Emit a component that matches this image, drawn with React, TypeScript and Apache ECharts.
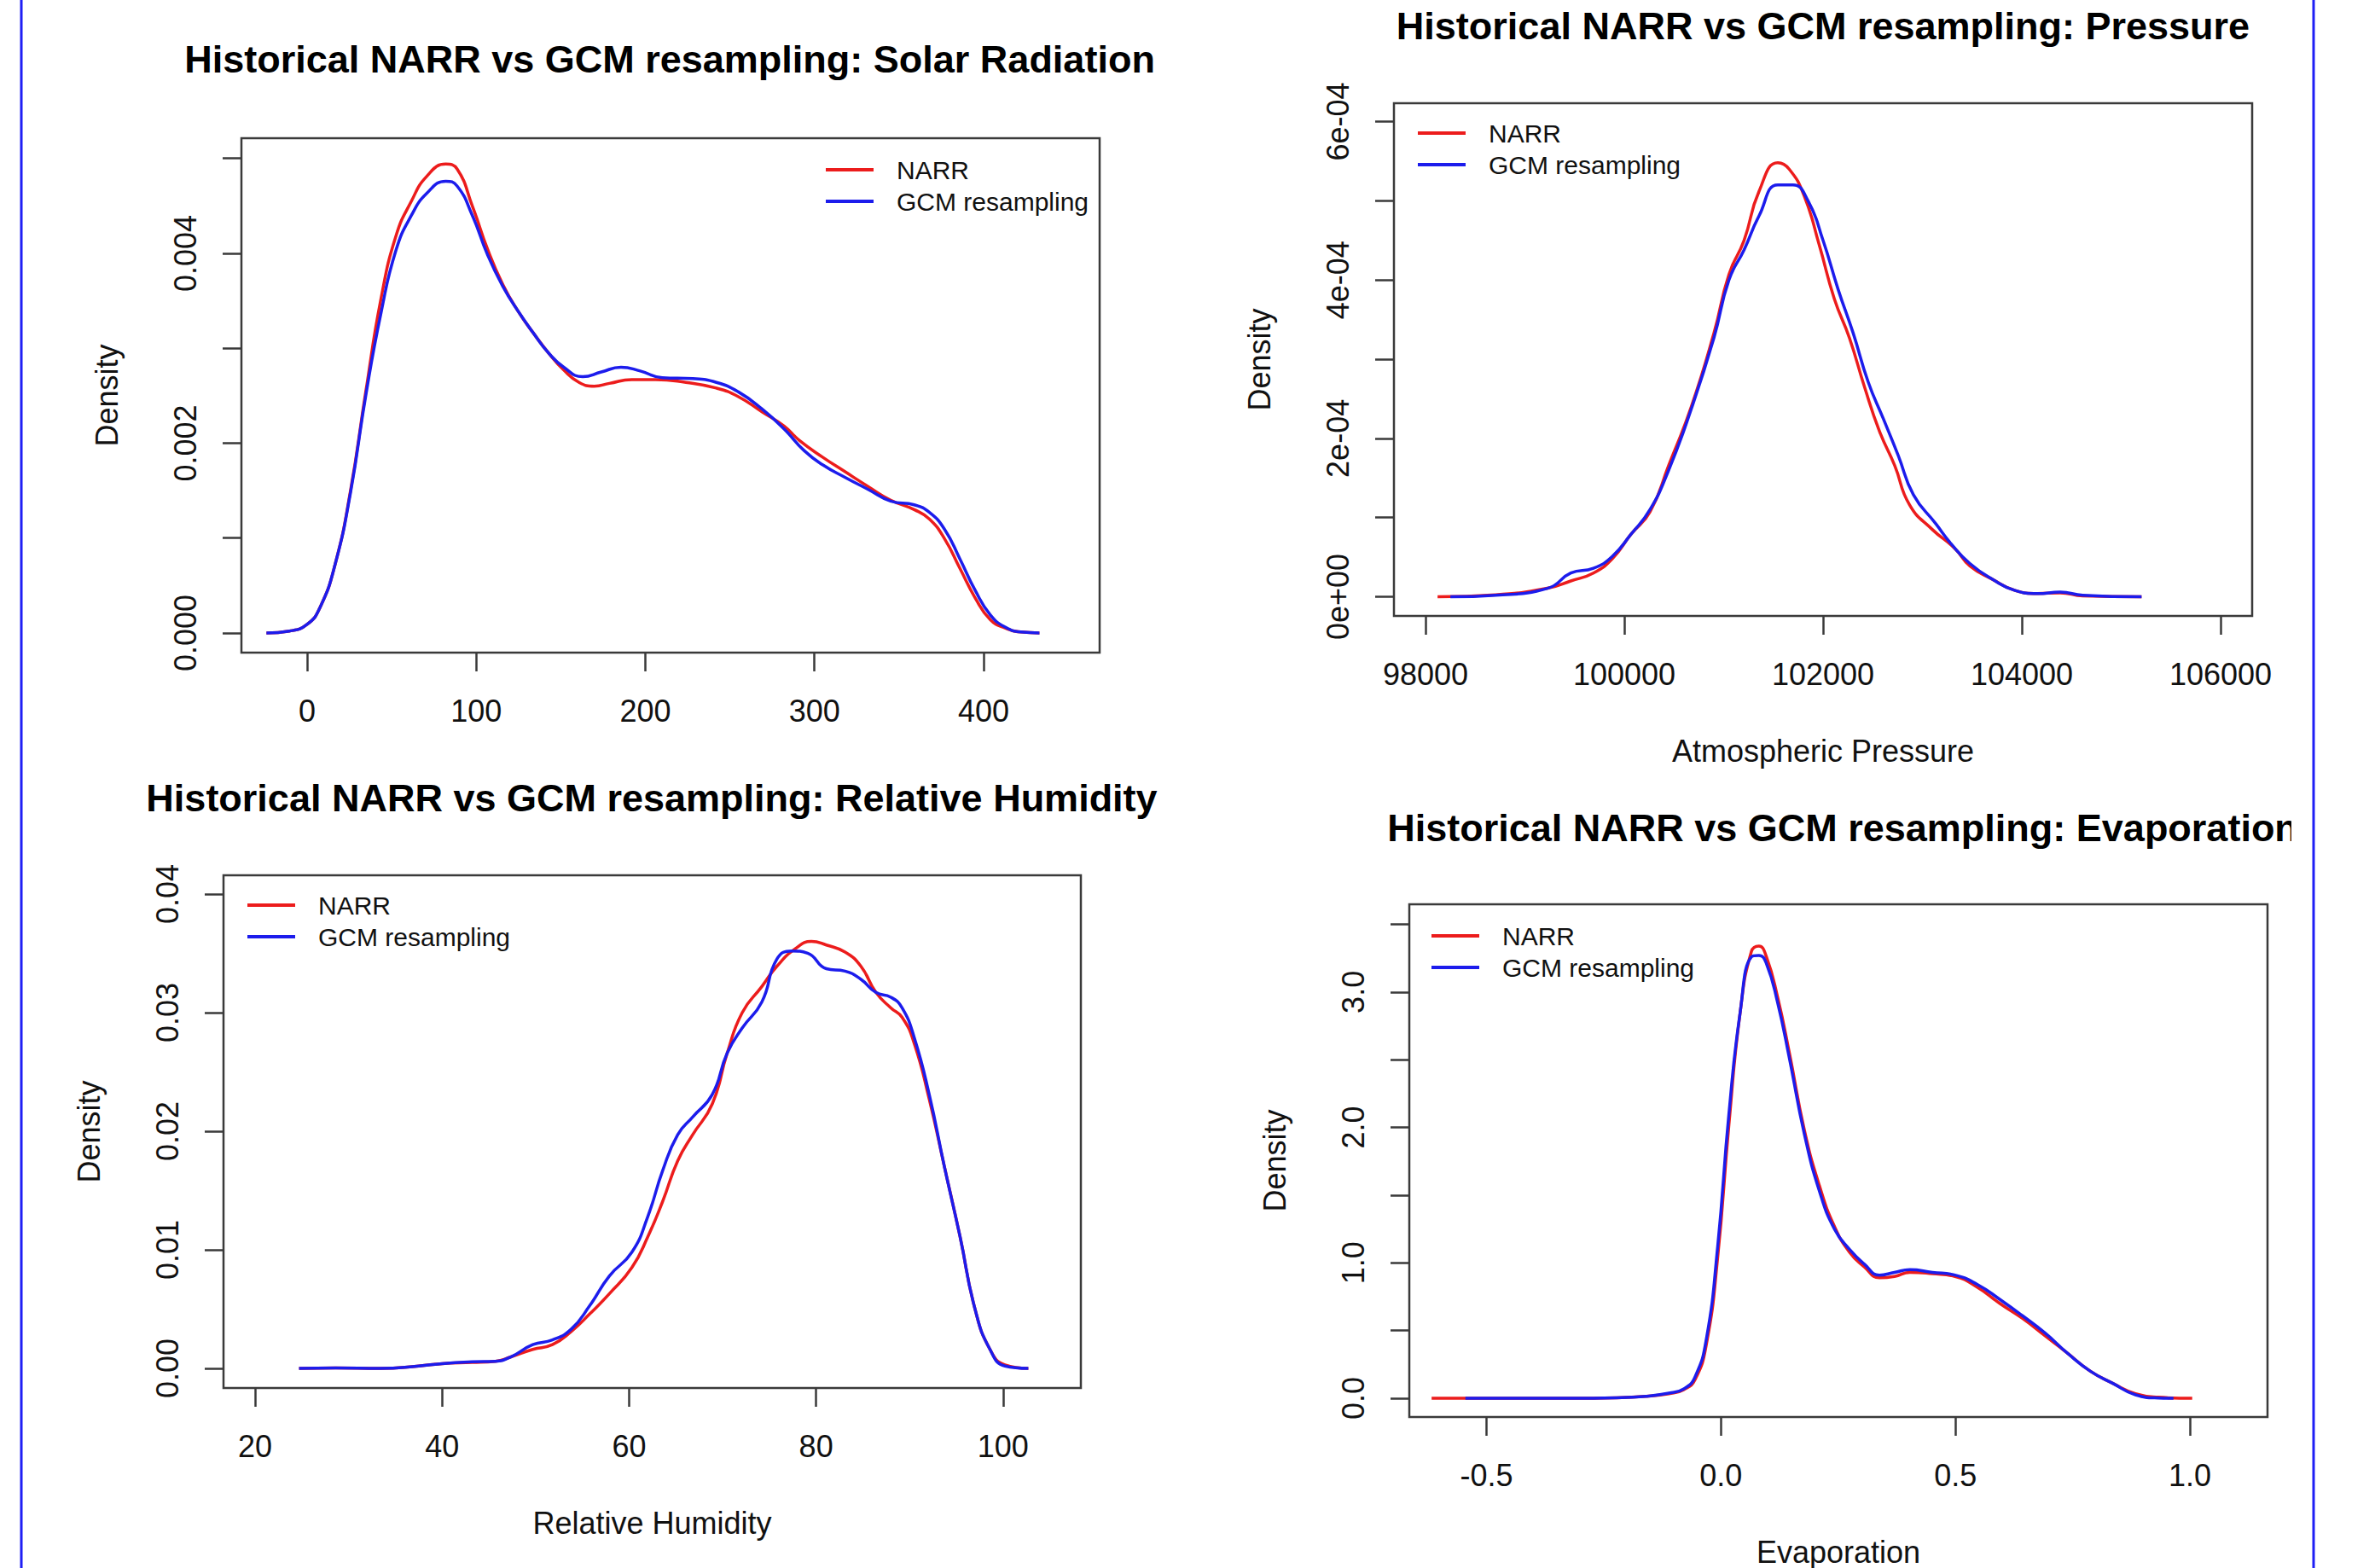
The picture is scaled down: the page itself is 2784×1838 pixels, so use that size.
import React, { useEffect, useRef } from 'react';
import * as echarts from 'echarts';

// ---------- texts ----------
const seriesNames = ['NARR', 'GCM resampling'];
const panelTitles = [
  'Historical NARR vs GCM resampling: Solar Radiation',
  'Historical NARR vs GCM resampling: Pressure',
  'Historical NARR vs GCM resampling: Relative Humidity',
  'Historical NARR vs GCM resampling: Evaporation',
];
const xAxisNames = ['', 'Atmospheric Pressure', 'Relative Humidity', 'Evaporation'];
const yAxisName = 'Density';

// ---------- tick values ----------
const solarXTicks = [0, 100, 200, 300, 400];
const solarYTicks = [0, 0.001, 0.002, 0.003, 0.004, 0.005];
const solarYLabels = [0, 0.002, 0.004];
const presXTicks = [98000, 100000, 102000, 104000, 106000];
const presYTicks = [0, 1e-4, 2e-4, 3e-4, 4e-4, 5e-4, 6e-4];
const presYLabels = [0, 2e-4, 4e-4, 6e-4];
const rhXTicks = [20, 40, 60, 80, 100];
const rhYTicks = [0, 0.01, 0.02, 0.03, 0.04];
const evapXTicks = [-0.5, 0, 0.5, 1.0];
const evapYTicks = [0, 0.5, 1, 1.5, 2, 2.5, 3, 3.5];
const evapYLabels = [0, 1, 2, 3];

// ---------- density curves [x, density] ----------
const solarNarr = [
  [-24, 0], [-10.4, 0.00002], [0, 0.00009], [7.7, 0.00027], [16.7, 0.00073], [25.7, 0.0015],
  [34.7, 0.00254], [43.7, 0.00352], [52.7, 0.00419], [61.7, 0.00455], [70.7, 0.00481], [82, 0.00494],
  [88.7, 0.00489], [97.7, 0.0045], [106.8, 0.00404], [115.8, 0.00367], [124.8, 0.00339], [133.8, 0.00316],
  [142.8, 0.00295], [151.8, 0.00277], [160.8, 0.00264], [169.8, 0.0026], [178.8, 0.00263], [192, 0.00267],
  [206, 0.00267], [224, 0.00264], [242, 0.00258], [255, 0.00249], [269, 0.00233], [282, 0.00218],
  [291, 0.00203], [305, 0.00185], [318, 0.0017], [332, 0.00154], [345, 0.0014], [359, 0.0013],
  [368, 0.0012], [377, 0.00099], [386, 0.00068], [395, 0.00037], [404, 0.00014], [413, 0.00005],
  [422, 0.00001], [433, 0],
];
const solarGcm = [
  [-24, 0], [-10.4, 0.00002], [0, 0.00009], [7.7, 0.00027], [16.7, 0.00073], [25.7, 0.00148],
  [34.7, 0.0025], [43.7, 0.00337], [52.7, 0.00404], [61.7, 0.0044], [70.7, 0.00463], [82, 0.00476],
  [88.7, 0.00471], [97.7, 0.0044], [106.8, 0.00398], [115.8, 0.00365], [124.8, 0.00339], [133.8, 0.00316],
  [142.8, 0.00295], [151.8, 0.0028], [163, 0.0027], [174, 0.00275], [185.6, 0.0028], [197, 0.00276],
  [210, 0.00269], [228, 0.00268], [242, 0.00264], [255, 0.00254], [269, 0.00236], [282, 0.00215],
  [294, 0.00192], [305, 0.00177], [318, 0.00164], [332, 0.00151], [345, 0.00139], [359, 0.00135],
  [368, 0.00127], [377, 0.00109], [386, 0.00078], [395, 0.00045], [404, 0.00019], [413, 0.00006],
  [422, 0.00001], [433, 0],
];
const presNarr = [
  [98121, 0], [98705, 2.5e-6], [99235, 1.1e-5], [99462, 2.0e-5], [99689, 3.0e-5], [99879, 4.8e-5],
  [100068, 7.9e-5], [100258, 1.07e-4], [100447, 1.66e-4], [100674, 2.4e-4], [100902, 3.33e-4],
  [101053, 4.07e-4], [101205, 4.5e-4], [101356, 5.12e-4], [101545, 5.48e-4], [101659, 5.4e-4],
  [101811, 5.06e-4], [101962, 4.44e-4], [102114, 3.76e-4], [102265, 3.27e-4], [102417, 2.65e-4],
  [102568, 2.09e-4], [102720, 1.66e-4], [102871, 1.16e-4], [103099, 8.5e-5], [103326, 6.1e-5],
  [103477, 3.9e-5], [103705, 2.2e-5], [103932, 8e-6], [104159, 4e-6], [104386, 5e-6], [104614, 1e-6],
  [105205, 0],
];
const presGcm = [
  [98250, 0], [98705, 2e-6], [99235, 1.1e-5], [99462, 3.0e-5], [99689, 3.6e-5], [99879, 5.1e-5],
  [100068, 7.9e-5], [100258, 1.1e-4], [100447, 1.6e-4], [100674, 2.37e-4], [100902, 3.27e-4],
  [101053, 4.0e-4], [101205, 4.38e-4], [101356, 4.81e-4], [101545, 5.2e-4], [101697, 5.2e-4],
  [101849, 5.0e-4], [102000, 4.5e-4], [102152, 3.88e-4], [102303, 3.33e-4], [102455, 2.71e-4],
  [102606, 2.25e-4], [102758, 1.78e-4], [102909, 1.29e-4], [103136, 9.2e-5], [103288, 6.7e-5],
  [103477, 4.2e-5], [103705, 2.2e-5], [103932, 8e-6], [104159, 4e-6], [104386, 6e-6], [104614, 2e-6],
  [105205, 0],
];
const rhNarr = [
  [24.7, 0], [28.6, 0.00004], [33.4, 0], [37.5, 0.0002], [40, 0.0004], [43.2, 0.0005], [45.7, 0.0006],
  [47.3, 0.00095], [49.7, 0.0016], [51.8, 0.002], [53.8, 0.0031], [55.8, 0.0046], [57.9, 0.0063],
  [60.3, 0.0085], [62, 0.0111], [63.6, 0.0141], [65.2, 0.0175], [66.8, 0.0197], [68.9, 0.0223],
  [70.5, 0.0266], [72.1, 0.03], [74.2, 0.0322], [75.8, 0.0339], [77.8, 0.0354], [79.5, 0.036],
  [81.1, 0.0357], [83.1, 0.0351], [84.8, 0.0339], [86.4, 0.0317], [88, 0.0304], [89.2, 0.0296],
  [90.5, 0.0274], [92.1, 0.0227], [93.7, 0.0171], [95.4, 0.0111], [97, 0.005], [98.6, 0.0016],
  [100.2, 0.0003], [102.7, 0],
];
const rhGcm = [
  [24.7, 0], [28.6, 0.00004], [33.4, 0], [37.5, 0.0002], [40, 0.0004], [43.2, 0.00055], [45.7, 0.0006],
  [47.3, 0.00095], [49.7, 0.002], [51.8, 0.0024], [53.8, 0.0033], [55.8, 0.0053], [57.9, 0.0078],
  [60.3, 0.0098], [62, 0.0128], [63.6, 0.0167], [65.2, 0.0197], [66.8, 0.0212], [68.9, 0.0231],
  [70.5, 0.0266], [72.1, 0.0287], [74.2, 0.0309], [75.8, 0.0345], [77.4, 0.0352], [79.1, 0.035],
  [81.1, 0.0337], [83.1, 0.0335], [84.8, 0.0328], [86.4, 0.0317], [88, 0.0313], [89.2, 0.0304],
  [90.5, 0.0279], [92.1, 0.0231], [93.7, 0.0171], [95.4, 0.0111], [97, 0.005], [98.6, 0.0016],
  [100.2, 0.0002], [102.7, 0],
];
const evapNarr = [
  [-0.617, 0], [-0.481, 0], [-0.32, 0], [-0.224, 0.004], [-0.16, 0.015], [-0.111, 0.034],
  [-0.079, 0.064], [-0.055, 0.14], [-0.031, 0.4], [-0.007, 1.04], [0.017, 2.02], [0.041, 2.85],
  [0.065, 3.3], [0.081, 3.34], [0.097, 3.26], [0.121, 2.96], [0.146, 2.55], [0.178, 1.98],
  [0.21, 1.57], [0.242, 1.27], [0.274, 1.08], [0.306, 0.97], [0.338, 0.89], [0.37, 0.9],
  [0.403, 0.93], [0.451, 0.92], [0.499, 0.9], [0.547, 0.82], [0.595, 0.7], [0.643, 0.59],
  [0.692, 0.46], [0.74, 0.33], [0.788, 0.2], [0.836, 0.11], [0.884, 0.034], [0.933, 0.008],
  [1.005, 0],
];
const evapGcm = [
  [-0.545, 0], [-0.32, 0], [-0.224, 0.004], [-0.16, 0.015], [-0.111, 0.038], [-0.079, 0.07],
  [-0.055, 0.16], [-0.031, 0.44], [-0.007, 1.12], [0.017, 2.1], [0.041, 2.85], [0.065, 3.26],
  [0.081, 3.27], [0.097, 3.21], [0.121, 2.92], [0.146, 2.51], [0.178, 1.95], [0.21, 1.53],
  [0.242, 1.25], [0.274, 1.1], [0.306, 0.99], [0.338, 0.91], [0.37, 0.93], [0.403, 0.95],
  [0.451, 0.93], [0.499, 0.91], [0.547, 0.84], [0.595, 0.73], [0.643, 0.61], [0.692, 0.48],
  [0.74, 0.33], [0.788, 0.2], [0.836, 0.11], [0.884, 0.026], [0.933, 0.002], [0.965, 0],
];

// ---------- formatting helpers ----------
const fmtExp = (v: number) => {
  if (v === 0) return '0e+00';
  const e = Math.floor(Math.log10(v) + 1e-9);
  const m = Math.round(v / Math.pow(10, e));
  return `${m}e-${String(-e).padStart(2, '0')}`;
};

// ---------- layout (pixels) ----------
const FONT = '"Liberation Sans", Arial, Helvetica, sans-serif';
const RED = '#ec1c1c';
const BLUE = '#1c1cec';
const INK = '#111111';
const AXIS = '#3a3a3a';

const panels = [
  {
    box: [283, 162, 1289, 765], xr: [-38.8, 468.6], yr: [-0.000207, 0.005213],
    xTicks: solarXTicks, xLabels: solarXTicks, xFmt: (v: number) => String(v),
    yTicks: solarYTicks, yLabels: solarYLabels, yFmt: (v: number) => v.toFixed(3),
    data: [solarNarr, solarGcm], title: [785, 69], legend: [968, 199],
  },
  {
    box: [1634, 121, 2640, 722], xr: [97682, 106318], yr: [-0.242e-4, 6.232e-4],
    xTicks: presXTicks, xLabels: presXTicks, xFmt: (v: number) => String(v),
    yTicks: presYTicks, yLabels: presYLabels, yFmt: fmtExp,
    data: [presNarr, presGcm], title: [2137, 30], legend: [1662, 156],
  },
  {
    box: [262, 1026, 1267, 1627], xr: [16.62, 108.32], yr: [-0.001655, 0.04158],
    xTicks: rhXTicks, xLabels: rhXTicks, xFmt: (v: number) => String(v),
    yTicks: rhYTicks, yLabels: rhYTicks, yFmt: (v: number) => v.toFixed(2),
    data: [rhNarr, rhGcm], title: [764, 935], legend: [290, 1061],
  },
  {
    box: [1652, 1060, 2658, 1662], xr: [-0.6646, 1.1656], yr: [-0.138, 3.648],
    xTicks: evapXTicks, xLabels: evapXTicks, xFmt: (v: number) => v.toFixed(1),
    yTicks: evapYTicks, yLabels: evapYLabels, yFmt: (v: number) => v.toFixed(1),
    data: [evapNarr, evapGcm], title: [2160, 970], legend: [1678, 1097],
  },
];

function buildOption() {
  const grid: any[] = [];
  const xAxis: any[] = [];
  const yAxis: any[] = [];
  const series: any[] = [];
  const legend: any[] = [];
  const graphic: any[] = [];

  panels.forEach((p, i) => {
    const [l, t, r, b] = p.box;
    grid.push({
      left: l, top: t, width: r - l, height: b - t,
      show: true, borderColor: AXIS, borderWidth: 2.5, backgroundColor: 'transparent',
      containLabel: false,
    });
    xAxis.push({
      type: 'value', gridIndex: i, min: p.xr[0], max: p.xr[1], position: 'bottom',
      name: xAxisNames[i], nameLocation: 'middle', nameGap: 140,
      nameTextStyle: { fontSize: 36, color: INK, fontFamily: FONT },
      axisLine: { show: false, onZero: false },
      splitLine: { show: false },
      axisTick: { show: true, inside: false, length: 22, lineStyle: { color: AXIS, width: 2.5 }, customValues: p.xTicks },
      axisLabel: {
        show: true, margin: 50, fontSize: 36, color: INK, fontFamily: FONT,
        customValues: p.xLabels, formatter: p.xFmt,
      },
    });
    yAxis.push({
      type: 'value', gridIndex: i, min: p.yr[0], max: p.yr[1], position: 'left',
      name: yAxisName, nameLocation: 'middle', nameGap: 140, nameRotate: 90,
      nameTextStyle: { fontSize: 36, color: INK, fontFamily: FONT },
      axisLine: { show: false, onZero: false },
      splitLine: { show: false },
      axisTick: { show: true, inside: false, length: 22, lineStyle: { color: AXIS, width: 2.5 }, customValues: p.yTicks },
      axisLabel: {
        show: true, margin: 48, rotate: 90, fontSize: 36, color: INK, fontFamily: FONT,
        customValues: p.yLabels, formatter: p.yFmt,
      },
    });
    p.data.forEach((d, k) => {
      series.push({
        type: 'line', name: seriesNames[k], xAxisIndex: i, yAxisIndex: i,
        data: d, showSymbol: false, symbol: 'none', smooth: 0.5,
        lineStyle: { color: k === 0 ? RED : BLUE, width: 3.5 },
        itemStyle: { color: k === 0 ? RED : BLUE },
        clip: true, z: 2 + k,
      });
    });
    legend.push({
      orient: 'vertical', left: p.legend[0], top: p.legend[1] - 15, padding: 0,
      itemWidth: 56, itemHeight: 4, itemGap: 7, icon: 'rect', selectedMode: false,
      data: seriesNames,
      textStyle: { fontSize: 30, lineHeight: 30, color: INK, fontFamily: FONT, padding: [0, 0, 0, 22] },
    });
    graphic.push({
      type: 'text', x: p.title[0], y: p.title[1], z: 10,
      style: {
        text: panelTitles[i], textAlign: 'center', textVerticalAlign: 'middle',
        fontSize: 45, fontWeight: 'bold', fontFamily: FONT, fill: '#000',
      },
    });
  });

  // the evaporation title is cut off at the right by the frame
  graphic.push({ type: 'rect', shape: { x: 2686, y: 930, width: 24, height: 80 }, style: { fill: '#fff' }, z: 20 });
  // blue frame lines on both sides
  graphic.push({ type: 'line', shape: { x1: 25, y1: 0, x2: 25, y2: 1838 }, style: { stroke: '#1f1ff5', lineWidth: 3 }, z: 30 });
  graphic.push({ type: 'line', shape: { x1: 2712, y1: 0, x2: 2712, y2: 1838 }, style: { stroke: '#1f1ff5', lineWidth: 3 }, z: 30 });

  return {
    animation: false,
    backgroundColor: '#ffffff',
    textStyle: { fontFamily: FONT },
    grid, xAxis, yAxis, series, legend, graphic,
  };
}

export default function App() {
  const ref = useRef<HTMLDivElement>(null);
  useEffect(() => {
    if (!ref.current) return;
    const chart = echarts.init(ref.current, undefined, { renderer: 'svg' });
    chart.setOption(buildOption() as any);
    return () => chart.dispose();
  }, []);
  return (
    <div
      ref={ref}
      style={{ position: 'fixed', left: 0, top: 0, width: 2784, height: 1838, background: '#fff' }}
    />
  );
}
